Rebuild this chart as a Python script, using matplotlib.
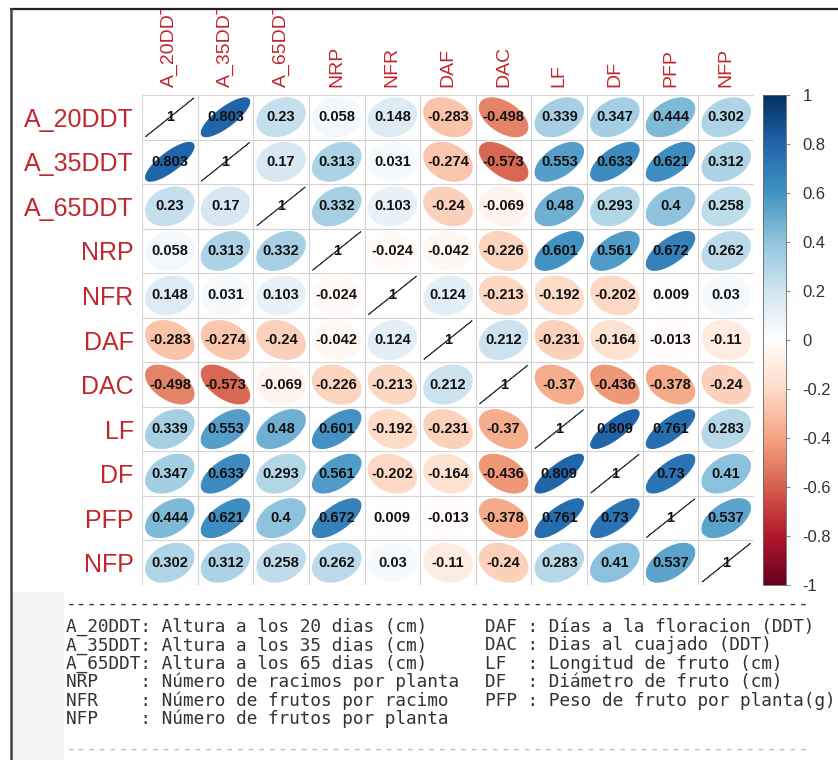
import numpy as np
import matplotlib
matplotlib.use('Agg')
import matplotlib.pyplot as plt
from matplotlib.colors import LinearSegmentedColormap, Normalize
from matplotlib.patches import Polygon, Rectangle
from matplotlib.lines import Line2D
import matplotlib.cm as cm

# variables y matriz de correlacion
variables = ['A_20DDT', 'A_35DDT', 'A_65DDT', 'NRP', 'NFR', 'DAF', 'DAC', 'LF', 'DF', 'PFP', 'NFP']
corr = [
    [1, 0.803, 0.23, 0.058, 0.148, -0.283, -0.498, 0.339, 0.347, 0.444, 0.302],
    [0.803, 1, 0.17, 0.313, 0.031, -0.274, -0.573, 0.553, 0.633, 0.621, 0.312],
    [0.23, 0.17, 1, 0.332, 0.103, -0.24, -0.069, 0.48, 0.293, 0.4, 0.258],
    [0.058, 0.313, 0.332, 1, -0.024, -0.042, -0.226, 0.601, 0.561, 0.672, 0.262],
    [0.148, 0.031, 0.103, -0.024, 1, 0.124, -0.213, -0.192, -0.202, 0.009, 0.03],
    [-0.283, -0.274, -0.24, -0.042, 0.124, 1, 0.212, -0.231, -0.164, -0.013, -0.11],
    [-0.498, -0.573, -0.069, -0.226, -0.213, 0.212, 1, -0.37, -0.436, -0.378, -0.24],
    [0.339, 0.553, 0.48, 0.601, -0.192, -0.231, -0.37, 1, 0.809, 0.761, 0.283],
    [0.347, 0.633, 0.293, 0.561, -0.202, -0.164, -0.436, 0.809, 1, 0.73, 0.41],
    [0.444, 0.621, 0.4, 0.672, 0.009, -0.013, -0.378, 0.761, 0.73, 1, 0.537],
    [0.302, 0.312, 0.258, 0.262, 0.03, -0.11, -0.24, 0.283, 0.41, 0.537, 1],
]
cbar_ticks = [1, 0.8, 0.6, 0.4, 0.2, 0, -0.2, -0.4, -0.6, -0.8, -1]

leyenda_izq = [
    'A_20DDT: Altura a los 20 dias (cm)',
    'A_35DDT: Altura a los 35 dias (cm)',
    'A_65DDT: Altura a los 65 dias (cm)',
    'NRP    : Número de racimos por planta',
    'NFR    : Número de frutos por racimo',
    'NFP    : Número de frutos por planta',
]
leyenda_der = [
    'DAF : Días a la floracion (DDT)',
    'DAC : Dias al cuajado (DDT)',
    'LF  : Longitud de fruto (cm)',
    'DF  : Diámetro de fruto (cm)',
    'PFP : Peso de fruto por planta(g)',
]

# paleta RdBu de corrplot
paleta = ['#67001F', '#B2182B', '#D6604D', '#F4A582', '#FDDBC7', '#FFFFFF',
          '#D1E5F0', '#92C5DE', '#4393C3', '#2166AC', '#053061']
cmap = LinearSegmentedColormap.from_list('rdbu', paleta, N=200)
norm = Normalize(-1, 1)

W, H = 838, 760
fig = plt.figure(figsize=(W / 100, H / 100), dpi=100)


def fx(x):
    return x / W


def fy(y):
    return 1 - y / H


label_col = '#c0282d'
n = len(variables)
r = np.array(corr, dtype=float)

ax = fig.add_axes([fx(142), fy(585), fx(754) - fx(142), fy(95) - fy(585)])
ax.set_xlim(0, n)
ax.set_ylim(n, 0)
for s in ax.spines.values():
    s.set_visible(False)

# cuadricula
for k in range(n + 1):
    ax.axhline(k, color='#d4d4d4', lw=0.8, zorder=1)
    ax.axvline(k, color='#d4d4d4', lw=0.8, zorder=1)

# elipses (como corrplot method="ellipse")
t = np.linspace(0, 2 * np.pi, 99)
for i in range(n):
    for j in range(n):
        v = r[i, j]
        a = np.arccos(np.clip(v, -1, 1)) / 2
        ex = 0.87 * np.cos(t + a) / 2
        ey = 0.87 * np.cos(t - a) / 2
        col = cmap(norm(v))
        if v == 1:
            col = '#333a48'
        pts = np.column_stack([j + 0.5 + ex, i + 0.5 - ey])
        ax.add_patch(Polygon(pts, closed=True, facecolor=col, edgecolor=col,
                             lw=0.7 if v == 1 else 0.8, zorder=2))
        txt = f'{round(v, 3):g}'
        ax.text(j + 0.5, i + 0.5, txt, ha='center', va='center', fontsize=10.5,
                fontweight='bold', family='Liberation Sans', color='#111111', zorder=3)

ax.set_xticks(np.arange(n) + 0.5)
ax.set_yticks(np.arange(n) + 0.5)
ax.set_xticklabels(variables, rotation=90, fontsize=14, family='Liberation Sans', color=label_col)
ax.set_yticklabels(variables, fontsize=18, family='Liberation Sans', color=label_col)
ax.xaxis.tick_top()
ax.tick_params(length=0, pad=6)

# barra de color
cax = fig.add_axes([fx(763), fy(585), fx(786) - fx(763), fy(95) - fy(585)])
sm = cm.ScalarMappable(norm=norm, cmap=cmap)
cb = fig.colorbar(sm, cax=cax, ticks=cbar_ticks)
cb.ax.set_yticklabels([f'{v:g}' for v in cbar_ticks], family='Liberation Sans', fontsize=12, color='#333333')
cb.ax.tick_params(length=3, width=0.8, color='#888888', pad=9)
cb.outline.set_edgecolor('#666666')
cb.outline.set_linewidth(0.6)

# fondo gris del bloque de texto
fig.add_artist(Rectangle((fx(12), 0), fx(64) - fx(12), fy(592), transform=fig.transFigure,
                         facecolor='#f2f2f2', edgecolor='none', zorder=-1))

# leyenda de variables (texto tipo consola)
mono = dict(family='DejaVu Sans Mono', fontsize=12.8, color='#333333', va='center', ha='left')
fig.text(fx(66), fy(604), '-' * 70, **mono)
for k, linea in enumerate(leyenda_izq):
    fig.text(fx(66), fy(627 + 18.4 * k), linea, **mono)
for k, linea in enumerate(leyenda_der):
    fig.text(fx(485), fy(627 + 18.4 * k), linea, **mono)
fig.text(fx(66), fy(749), '-' * 70, family='DejaVu Sans Mono', fontsize=12.8,
         color='#bbbbbb', va='center', ha='left')

# marco exterior
fig.add_artist(Rectangle((0, fy(9)), 1, 1 - fy(9), transform=fig.transFigure,
                         facecolor='white', edgecolor='none', zorder=5))
fig.add_artist(Rectangle((0, 0), fx(10), 1, transform=fig.transFigure,
                         facecolor='white', edgecolor='none', zorder=5))
fig.add_artist(Line2D([fx(11), 1], [fy(9), fy(9)], transform=fig.transFigure,
                      color='#222222', lw=1.6, zorder=6))
fig.add_artist(Line2D([fx(11), fx(11)], [0, fy(9)], transform=fig.transFigure,
                      color='#444444', lw=1.8, zorder=6))

fig.savefig('out.png', dpi=100)
